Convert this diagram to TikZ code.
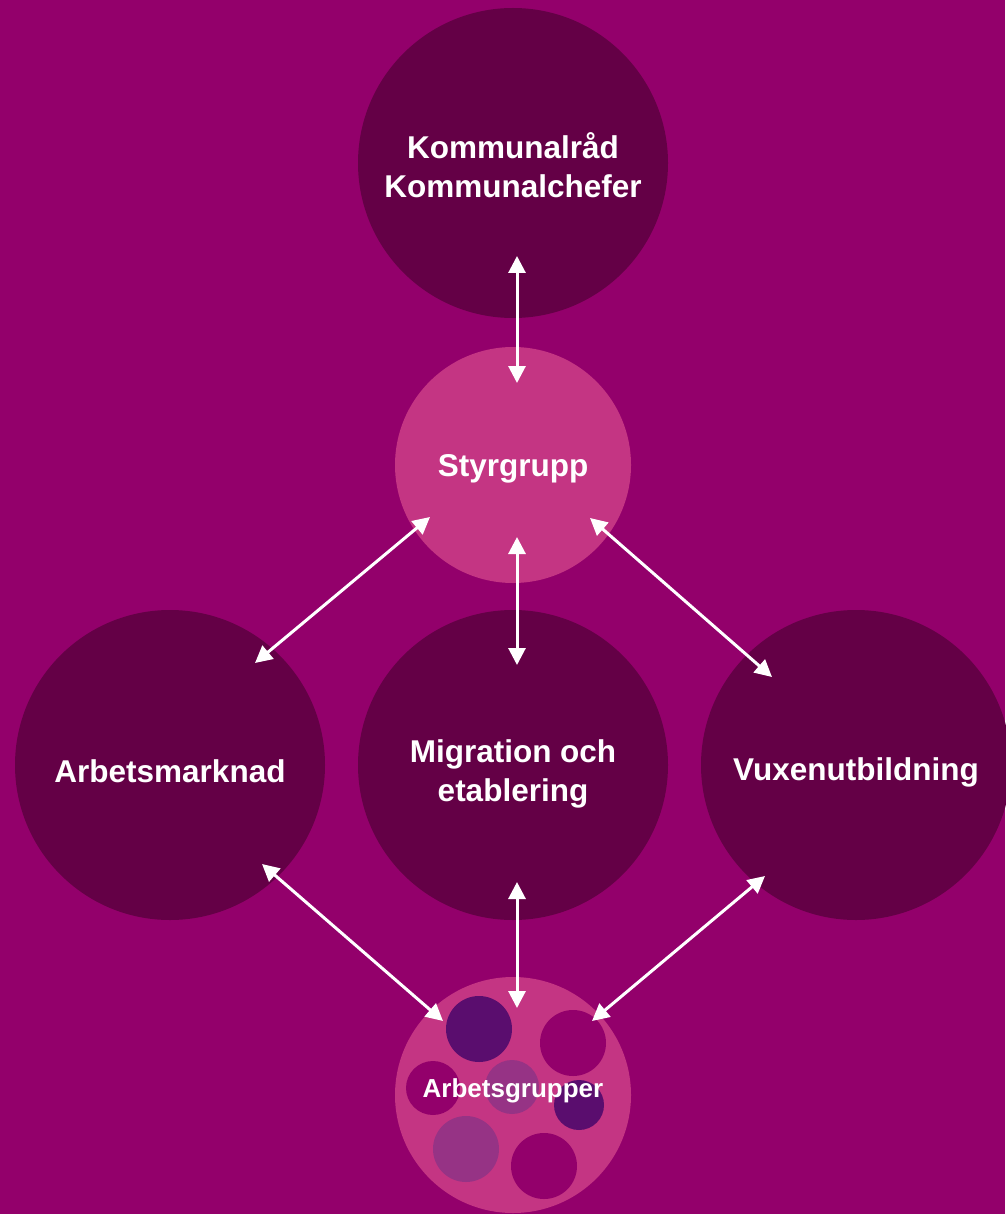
\documentclass[tikz,border=0pt]{standalone}
\usepackage{fontspec}
\setmainfont{Liberation Sans}
\usetikzlibrary{arrows.meta}
\definecolor{bg}{HTML}{93006B}
\definecolor{darkc}{HTML}{640046}
\definecolor{pinkc}{HTML}{C43583}
\definecolor{violc}{HTML}{5A0D6E}
\definecolor{lilac}{HTML}{963385}
\begin{document}
\begin{tikzpicture}[x=1pt,y=-1pt,
  bigc/.style={circle,fill=darkc,minimum size=310pt,inner sep=0pt},
  midc/.style={circle,fill=pinkc,minimum size=236pt,inner sep=0pt},
  lbl/.style={text=white,font=\fontsize{31.5}{38.5}\selectfont\bfseries,align=center},
  dot/.style={circle,inner sep=0pt},
  link/.style={draw=white,line width=3pt,{Triangle[length=17pt,width=17pt]}-{Triangle[length=17pt,width=17pt]}}]
\fill[bg] (0,0) rectangle (1005,1214);
\useasboundingbox (0,0) rectangle (1005,1214);
\node[bigc] (top) at (513,163) {};
\node[lbl] (toplabel) at (513,165) {Kommunalråd\\Kommunalchefer};
\node[midc] (styr) at (513,465) {};
\node[lbl] (styrlabel) at (513,469) {Styrgrupp};
\node[bigc] (arb) at (170,765) {};
\node[lbl] (arblabel) at (170,771) {Arbetsmarknad};
\node[bigc] (mig) at (513,765) {};
\node[lbl] (miglabel) at (513,774) {Migration och\\etablering};
\node[bigc] (vux) at (856,765) {};
\node[lbl] (vuxlabel) at (856,772) {Vuxenutbildning};
\node[midc] (grp) at (513,1095) {};
\node[dot,fill=violc,minimum size=66pt] (g1) at (479,1029) {};
\node[dot,fill=bg,minimum size=66pt] (g2) at (573,1043) {};
\node[dot,fill=bg,minimum size=54pt] (g3) at (433,1088) {};
\node[dot,fill=lilac,minimum size=54pt] (g4) at (512,1087) {};
\node[dot,fill=violc,minimum size=50pt] (g5) at (579,1105) {};
\node[dot,fill=lilac,minimum size=66pt] (g6) at (466,1149) {};
\node[dot,fill=bg,minimum size=66pt] (g7) at (544,1166) {};
\node[text=white,font=\fontsize{26}{30}\selectfont\bfseries] (grplabel) at (513,1091) {Arbetsgrupper};
% connector end points
\coordinate (a1) at (517,256); \coordinate (a2) at (517,383);
\coordinate (b1) at (430,517); \coordinate (b2) at (255,663);
\coordinate (c1) at (517,537); \coordinate (c2) at (517,665);
\coordinate (d1) at (590,518); \coordinate (d2) at (772,677);
\coordinate (e1) at (262,864); \coordinate (e2) at (443,1021);
\coordinate (f1) at (517,882); \coordinate (f2) at (517,1008);
\coordinate (h1) at (765,876); \coordinate (h2) at (592,1021);
\draw[link] (a1) -- (a2);
\draw[link] (b1) -- (b2);
\draw[link] (c1) -- (c2);
\draw[link] (d1) -- (d2);
\draw[link] (e1) -- (e2);
\draw[link] (f1) -- (f2);
\draw[link] (h1) -- (h2);
\end{tikzpicture}
\end{document}
